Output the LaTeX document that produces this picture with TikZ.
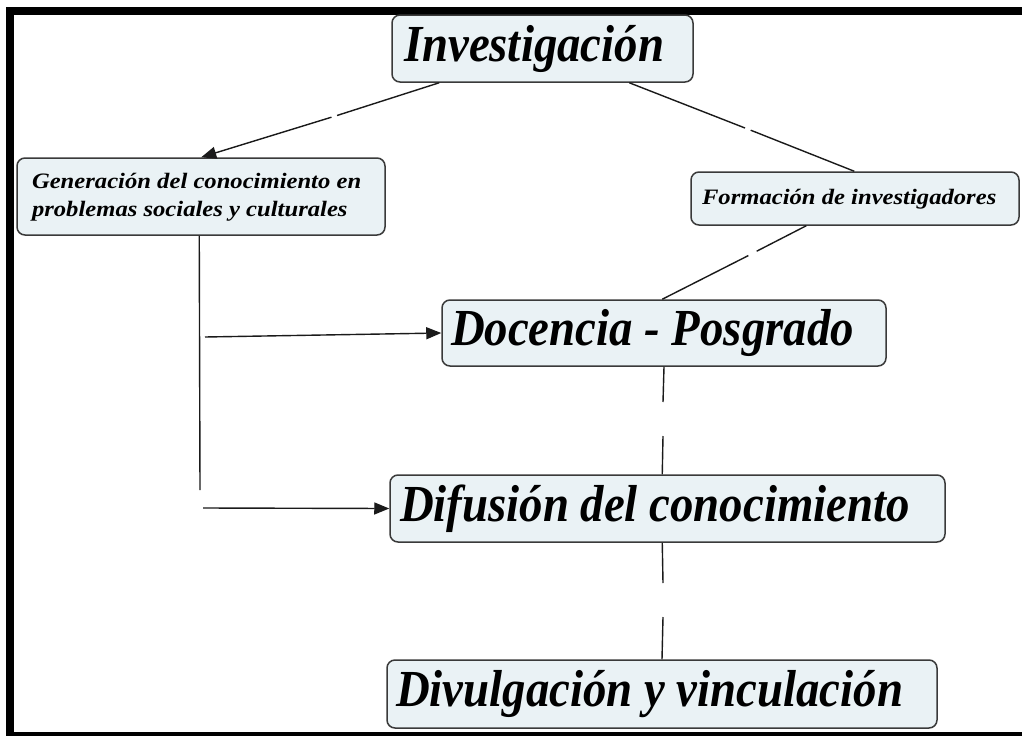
\documentclass[tikz,border=0pt]{standalone}
\usepackage{fontspec}
\usepackage{graphicx}
\setmainfont{Liberation Serif}
\usetikzlibrary{arrows.meta}
\definecolor{boxfill}{HTML}{EAF2F5}
\definecolor{boxline}{HTML}{3A3A3A}
\definecolor{linkcol}{HTML}{1A1A1A}
\newcommand{\bigtxt}[2]{\makebox[#1][l]{\scalebox{0.9}[1]{\fontsize{52}{52}\selectfont\bfseries\itshape #2}}}
\newcommand{\smalltxt}[2]{\makebox[#1][l]{\scalebox{1.12}[1]{\fontsize{22}{28}\selectfont\bfseries\itshape\begin{tabular}{@{}l@{}}#2\end{tabular}}}}
\tikzset{
  concept/.style={draw=boxline, fill=boxfill, rounded corners=8pt, line width=1.5pt, inner ysep=0pt},
  link/.style={draw=linkcol, line width=1.4pt},
  arr/.style={link, -{Triangle[length=15pt,width=12pt]}},
}
\begin{document}
\begin{tikzpicture}[x=1pt,y=-1pt]
\useasboundingbox (0,0) rectangle (1022,736);
\fill[white] (0,0) rectangle (1022,736);
% frame
\fill[black] (6,7) rectangle (1022,15);
\fill[black] (6,7) rectangle (14,736);
\fill[black] (6,732) rectangle (1022,736);

% concepts
\node[concept, minimum height=67pt, inner xsep=12pt] (inv) at (542.5,48.5) {\bigtxt{277pt}{Investigación}};
\node[concept, minimum height=77pt, inner xsep=15pt] (gen) at (201,196.5) {\smalltxt{338pt}{Generación del conocimiento en\\problemas sociales y culturales}};
\node[concept, minimum height=53pt, inner xsep=11pt] (form) at (855,198.5) {\smalltxt{306pt}{Formación de investigadores}};
\node[concept, minimum height=66pt, inner xsep=9pt] (doc) at (664,333) {\bigtxt{426pt}{Docencia - Posgrado}};
\node[concept, minimum height=67pt, inner xsep=10pt] (dif) at (667.5,508.5) {\bigtxt{535pt}{Difusión del conocimiento}};
\node[concept, minimum height=68pt, inner xsep=9pt] (div) at (662,694) {\bigtxt{532pt}{Divulgación y vinculación}};

% gap coordinates (empty linking phrases)
\coordinate (p1a) at (337,115.5);
\coordinate (p1b) at (331.5,117.2);
\coordinate (p2a) at (745,128);
\coordinate (p2b) at (750.7,130.2);
\coordinate (p3a) at (756.7,251.2);
\coordinate (p3b) at (748.3,255.6);
\coordinate (p4a) at (200,490);
\coordinate (p4b) at (205,337);
\coordinate (p4c) at (203,508);
\coordinate (p5a) at (663,402);
\coordinate (p5b) at (663,436);
\coordinate (p6a) at (663,583);
\coordinate (p6b) at (663,617);

% connectors
\draw[link] ([xshift=48pt]inv.south west) -- (p1a);
\draw[arr] (p1b) -- ([xshift=185pt]gen.north west);
\draw[link] ([xshift=238pt]inv.south west) -- (p2a);
\draw[link] (p2b) -- ([xshift=164pt]form.north west);
\draw[link] ([xshift=116pt]form.south west) -- (p3a);
\draw[link] (p3b) -- ([xshift=221pt]doc.north west);
\draw[link] ([xshift=183pt]gen.south west) -- (p4a);
\draw[arr] (p4b) -- (doc.west);
\draw[arr] (p4c) -- (dif.west);
\draw[link] (doc.south) -- (p5a);
\draw[link] (p5b) -- ([xshift=273pt]dif.north west);
\draw[link] ([xshift=273pt]dif.south west) -- (p6a);
\draw[link] (p6b) -- (div.north);
\end{tikzpicture}
\end{document}
